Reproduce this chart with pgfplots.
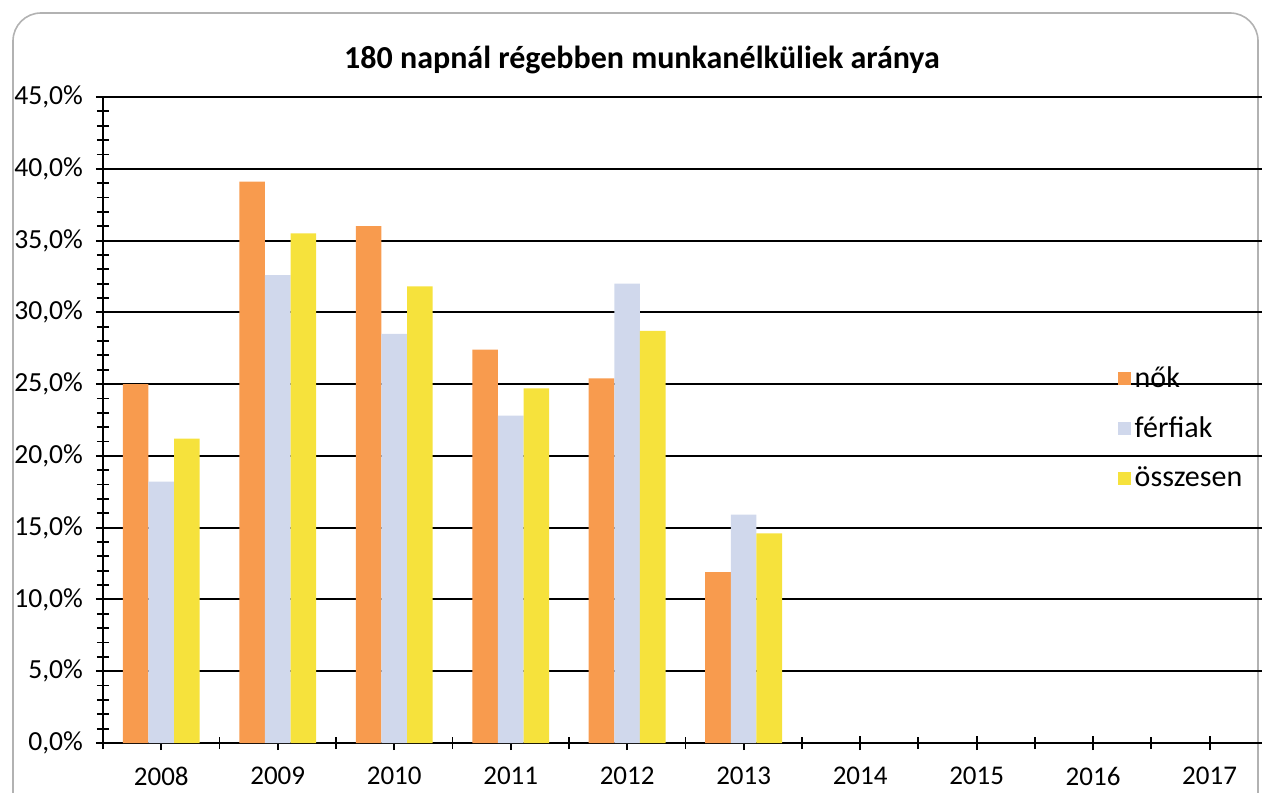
\documentclass[border=0pt]{standalone}
\usepackage{fontspec}
\setmainfont{Carlito}
\usepackage{pgfplots}
\pgfplotsset{compat=1.18}
\definecolor{cnok}{RGB}{248,155,78}
\definecolor{cferfi}{RGB}{208,216,236}
\definecolor{cossz}{RGB}{246,226,60}
\begin{document}
\begin{tikzpicture}
\clip (0,0) rectangle (631pt,396pt);
\useasboundingbox (0,0) rectangle (631pt,396pt);
\draw[black!30,line width=0.8pt,rounded corners=14pt] (6.5pt,-20pt) rectangle (629pt,389.5pt);
\node[font=\fontsize{16}{19}\selectfont\bfseries] at (321pt,366pt) {180 napnál régebben munkanélküliek aránya};
\begin{axis}[
  at={(51.5pt,24.5pt)}, anchor=south west,
  scale only axis, width=579.5pt, height=323pt,
  ybar=0pt, bar width=0.22,
  xmin=-0.5, xmax=9.45,
  ymin=0, ymax=45,
  axis lines*=left,
  axis line style={black,line width=1pt},
  xtick={0,1,...,9},
  xticklabels={2008,2009,2010,2011,2012,2013,2014,2015,2016,2017},
  minor xtick={-0.5,0.5,...,9.5},
  ytick={0,5,...,45},
  minor y tick num=4,
  tick align=center,
  major tick length=7pt, minor tick length=6pt,
  tick style={black,line width=1pt},
  minor tick style={black,line width=0.9pt},
  ymajorgrids,
  major grid style={black,line width=1pt},
  /pgf/number format/assume math mode=true,
  yticklabel={\pgfmathprintnumber[fixed,fixed zerofill,precision=1,use comma]{\tick}\%},
  yticklabel style={font=\fontsize{13.8}{16}\selectfont, xshift=-3pt},
  xticklabel style={font=\fontsize{13.5}{16}\selectfont, yshift=-5pt},
  legend style={at={(0.875,0.59)}, anchor=north west, draw=none, fill=none,
    font=\fontsize{15}{17}\selectfont, row sep=9.3pt, inner sep=0pt,
    legend cell align=left, /tikz/every even column/.append style={column sep=2.5pt}},
  legend image code/.code={\fill[#1,draw=none] (0pt,-3.3pt) rectangle (6.6pt,3.3pt);},
]
\addplot[fill=cnok,draw=none] coordinates {(0,25.0) (1,39.1) (2,36.0) (3,27.4) (4,25.4) (5,11.9)};
\addplot[fill=cferfi,draw=none] coordinates {(0,18.2) (1,32.6) (2,28.5) (3,22.8) (4,32.0) (5,15.9)};
\addplot[fill=cossz,draw=none] coordinates {(0,21.2) (1,35.5) (2,31.8) (3,24.7) (4,28.7) (5,14.6)};
\legend{nők,férfiak,összesen}
\end{axis}
\end{tikzpicture}
\end{document}
